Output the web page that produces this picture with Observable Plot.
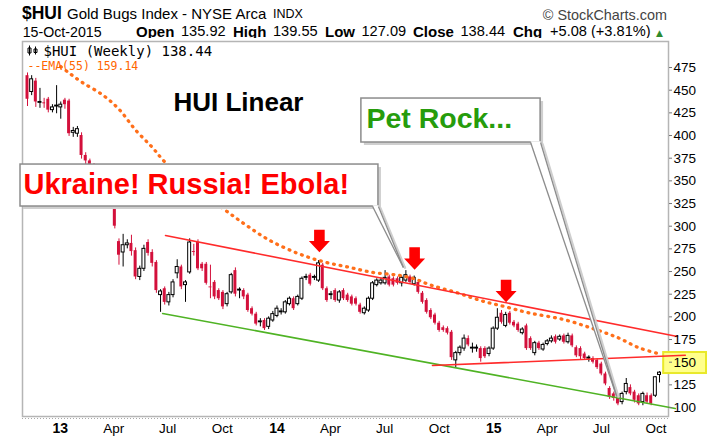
<!DOCTYPE html>
<html>
<head>
<meta charset="utf-8">
<script src="https://cdn.jsdelivr.net/npm/d3@7"></script>
<script src="https://cdn.jsdelivr.net/npm/@observablehq/plot@0.6"></script>
<style>
html,body{margin:0;padding:0;background:#fff;}
#wrap{position:relative;width:720px;height:440px;overflow:hidden;font-family:"Liberation Sans",Arial,sans-serif;color:#000;background:#fff;}
#wrap .t{position:absolute;white-space:nowrap;line-height:1;}
#chart{position:absolute;left:0;top:38px;}
</style>
</head>
<body>
<div id="wrap">
  <span class="t" style="left:22px;top:4.7px;font-size:17.5px;font-weight:bold">$HUI</span>
  <span class="t" style="left:67px;top:5.8px;font-size:15px">Gold Bugs Index - NYSE Arca</span>
  <span class="t" style="left:273px;top:7.9px;font-size:12.5px">INDX</span>
  <span class="t" style="right:53px;top:8.3px;font-size:14.4px;color:#444">© StockCharts.com</span>
  <span class="t" style="left:22.7px;top:24.7px;font-size:14.2px">15-Oct-2015</span>
  <span class="t" style="left:136px;top:24px;font-size:15px;font-weight:bold">Open</span>
  <span class="t" style="left:181px;top:24.3px;font-size:14.6px">135.92</span>
  <span class="t" style="left:233px;top:24px;font-size:15px;font-weight:bold">High</span>
  <span class="t" style="left:273px;top:24.3px;font-size:14.6px">139.55</span>
  <span class="t" style="left:325px;top:24px;font-size:15px;font-weight:bold">Low</span>
  <span class="t" style="left:361.5px;top:24.3px;font-size:14.6px">127.09</span>
  <span class="t" style="left:413px;top:24px;font-size:15px;font-weight:bold">Close</span>
  <span class="t" style="left:460.5px;top:24.3px;font-size:14.6px">138.44</span>
  <span class="t" style="left:513px;top:24px;font-size:15px;font-weight:bold">Chg</span>
  <span class="t" style="left:550px;top:24.3px;font-size:14.6px">+5.08 (+3.81%)</span>
  <span class="t" style="left:656px;top:28.5px;font-size:9px;color:#2e8b2e;font-family:'DejaVu Sans',sans-serif">▲</span>
  <div id="chart"></div>
</div>
<script>
// ---------- data ----------
const startWeek = Date.UTC(2012, 10, 12);           // first weekly bar (Monday)
const wk = i => new Date(startWeek + i * 7 * 864e5);  // week index -> date

const opens = [466,448,460,436,436,440,428,432,431,439,
  438,403,402,400,378,372,366,360,352,346,
  338,328,283,271,279,281,273,244,253,282,
  271,260,224,231,216,224,248,255,235,249,
  272,282,258,258,233,238,229,227,214,227,
  251,229,229,224,209,203,194,196,189,196,
  201,205,205,214,220,214,220,243,246,243,
  240,257,231,224,229,218,229,224,222,220,
  213,204,207,220,235,237,237,244,242,242,
  237,240,244,236,238,226,218,207,202,193,
  188,187,183,152,160,165,176,165,165,165,
  165,159,165,187,204,190,204,194,192,182,
  190,176,160,171,164,170,173,178,175,179,
  172,179,166,165,159,154,154,152,148,137,
  121,115,111,106,117,122,117,113,106,113,
  113,113,135.92];
const highs = [469,466,463,452,441,442,434,455,437,441,
  440,409,410,403,381,374,369,362,355,350,
  342,331,286,291,285,290,276,256,279,285,
  274,262,230,233,227,241,263,257,240,286,
  280,285,260,260,257,240,231,229,227,248,
  254,232,231,226,211,205,198,198,200,206,
  212,209,218,222,222,224,244,247,248,246,
  262,259,233,228,231,229,231,226,224,222,
  215,211,222,239,242,243,251,246,244,244,
  245,251,246,245,240,228,220,209,204,195,
  190,189,185,162,168,180,179,171,169,167,
  167,167,189,209,207,205,206,196,194,188,
  192,178,173,173,171,175,179,180,180,181,
  182,181,168,167,161,157,156,154,150,139,
  123,117,113,117,132,125,119,115,117,116,
  115,134,139.55];
const lows = [432,444,431,430,430,425,425,424,418,429,
  399,398,398,374,367,360,355,347,340,333,
  322,297,257,255,275,267,241,240,250,267,
  255,226,205,213,212,221,242,230,216,247,
  267,251,250,235,220,219,218,208,211,225,
  222,220,219,205,201,190,189,185,186,194,
  199,202,203,212,207,212,218,240,234,240,
  238,229,216,219,216,215,218,216,212,212,
  203,202,205,218,233,235,235,233,233,235,
  233,238,236,234,225,214,203,197,191,183,
  183,180,152,144,157,162,167,160,161,150,
  154,156,163,185,192,188,191,188,183,180,
  163,163,157,163,162,168,171,170,173,170,
  170,166,155,153,152,150,148,142,135,124,
  109,107,102,103,114,113,105,102,102,104,
  102,111,127.09];
const closes = [440,462,437,437,435,428,431,433,434,434,
  402,405,407,378,372,366,360,350,345,338,
  326,300,268,279,281,272,244,253,275,270,
  259,229,228,216,224,238,255,233,238,282,
  271,253,253,237,232,222,220,211,225,246,
  225,230,222,207,203,192,195,187,198,203,
  209,206,216,220,209,222,242,244,236,244,
  259,231,218,225,218,227,220,218,214,214,
  205,209,220,237,240,240,243,235,235,237,
  243,246,238,243,227,216,205,199,193,185,
  185,182,155,160,166,176,169,166,166,154,
  156,165,187,199,194,202,193,190,185,186,
  165,165,171,165,169,173,176,172,178,172,
  179,168,157,156,154,155,150,144,137,126,
  111,110,104,115,126,115,108,104,115,106,
  104,133.36,138.44];

// EMA(55) (week index, value)
const emaWeeks  = [8,10,13,18,22,26,30,33,39,46,52,58,65,71,77,83,89,93,97,103,109,115,121,129,136,142,147,152];
const emaValues = [476,469,459,445,429,406,387,371,348,323,303,285,270,261,255,249,246,242,235,227,218,211,204,197,187,177,166,159.14];

// trend lines (week index, value)
const redTopWeeks = [33.2, 156.3],  redTopValues = [289.7, 178.3];
const greenWeeks  = [32.5, 155.8],  greenValues  = [203.7, 98.9];
const supportWeeks = [97.4, 158.2], supportValues = [146.3, 157.6];

// red arrows (week index, value)
const arrowWeeks = [70.2, 93.1, 115.1];
const arrowValues = [283.6, 264.3, 228.5];

const yTicks = [100,125,150,175,200,225,250,275,300,325,350,375,400,425,450,475];
const xTickDates = ["2013-01-01","2013-04-01","2013-07-01","2013-10-01","2014-01-01","2014-04-01","2014-07-01","2014-10-01","2015-01-01","2015-04-01","2015-07-01","2015-10-01"];
const xTickLabels = ["13","Apr","Jul","Oct","14","Apr","Jul","Oct","15","Apr","Jul","Oct"];

// ---------- build ----------
const candles = opens.map((o, i) => ({date: wk(i), open: o, high: highs[i], low: lows[i], close: closes[i]}));
const upC = candles.filter(d => d.close >= d.open);
const dnC = candles.filter(d => d.close < d.open);
const half = 2.5 * 864e5;
const bx1 = d => new Date(+d.date - half), bx2 = d => new Date(+d.date + half);
const pts = (ws, vs) => ws.map((w, k) => ({date: wk(w), v: vs[k]}));
const xTicks = xTickDates.map((s, k) => ({date: new Date(s + "T00:00:00Z"), label: xTickLabels[k]}));
const yearTicks = xTicks.filter(d => /^\d+$/.test(d.label));
const monthTicks = xTicks.filter(d => !/^\d+$/.test(d.label));

const RED = "#d3103b";
const GRAY = "#8c8c8c", SHADOW = "#cfcfcf";

// callout boxes (week index, values)
const ukBox = {x1: wk(-1.68), x2: wk(84.4), y1: 321.7, y2: 368.0};
const prBox = {x1: wk(80.3), x2: wk(123.4), y1: 392.3, y2: 440.8};
const ukPtr = [{date: wk(83.0), v: 323}, {date: wk(84.4), v: 323}, {date: wk(90.4), v: 254.4}, {date: wk(83.0), v: 323}];
const prPtr = [{date: wk(121.0), v: 393.6}, {date: wk(123.4), v: 393.6}, {date: wk(141.7), v: 112.1}, {date: wk(121.0), v: 393.6}];
const ukSides = [{a: wk(83.0), b: wk(90.4), v1: 321.7, v2: 254.4}, {a: wk(84.4), b: wk(90.4), v1: 321.7, v2: 254.4}];
const prSides = [{a: wk(121.0), b: wk(141.7), v1: 392.3, v2: 112.1}, {a: wk(123.4), b: wk(141.7), v1: 392.3, v2: 112.1}];

const arrowSym = {draw(ctx) {
  ctx.moveTo(-5.3, -11.3); ctx.lineTo(5.3, -11.3); ctx.lineTo(5.3, 0); ctx.lineTo(10.5, 0);
  ctx.lineTo(0, 11.3); ctx.lineTo(-10.5, 0); ctx.lineTo(-5.3, 0); ctx.closePath();
}};
const iconSym = {draw(ctx) {
  ctx.moveTo(-3.5, -5); ctx.lineTo(-3.5, 5);
  ctx.rect(-5, -2.5, 3, 5);
  ctx.moveTo(2.5, -4); ctx.lineTo(2.5, 4);
  ctx.rect(1, -1.5, 3, 3.5);
}};

const chart = Plot.plot({
  width: 720, height: 402,
  marginTop: 3, marginBottom: 24, marginLeft: 22, marginRight: 52,
  style: {fontFamily: '"Liberation Sans", Arial, sans-serif', background: "white", overflow: "visible"},
  x: {type: "utc", domain: [wk(-1.2025), wk(154.16)], axis: null},
  y: {domain: [90.1, 503.7], axis: null},
  marks: [
    Plot.frame({stroke: "#b5b5b5", strokeWidth: 1.5}),
    Plot.ruleY([90.1], {stroke: "#a8a8a8", strokeDasharray: "1 2", dy: 2}),
    // yellow highlight behind the 150 label
    Plot.rect([{x1: wk(153.0), x2: wk(163.3), y1: 137.5, y2: 160.7}], {x1: "x1", x2: "x2", y1: "y1", y2: "y2", fill: "#ffff8c", stroke: "#e9e92a", strokeWidth: 2}),
    // candles
    Plot.ruleX(dnC, {x: "date", y1: "low", y2: "high", stroke: RED, strokeWidth: 1}),
    Plot.ruleX(upC, {x: "date", y1: "low", y2: "high", stroke: "#000", strokeWidth: 1}),
    Plot.rect(dnC, {x1: bx1, x2: bx2, y1: "open", y2: "close", fill: RED}),
    Plot.rect(upC, {x1: bx1, x2: bx2, y1: "open", y2: "close", fill: "white", stroke: "#000", strokeWidth: 1}),
    // EMA(55)
    Plot.line(pts(emaWeeks, emaValues), {x: "date", y: "v", stroke: "#ff6f1a", strokeWidth: 3.3, strokeDasharray: "0.8 5.9", strokeLinecap: "round", curve: "catmull-rom"}),
    // trend lines
    Plot.line(pts(greenWeeks, greenValues), {x: "date", y: "v", stroke: "#4fb324", strokeWidth: 1.6}),
    Plot.line(pts(redTopWeeks, redTopValues), {x: "date", y: "v", stroke: "#ff2b2b", strokeWidth: 1.6}),
    Plot.line(pts(supportWeeks, supportValues), {x: "date", y: "v", stroke: "#ff2b2b", strokeWidth: 1.6}),
    // arrows
    Plot.dot(pts(arrowWeeks, arrowValues), {x: "date", y: "v", symbol: arrowSym, r: 5, fill: "#ff0000", stroke: "none"}),
    // callout: Ukraine
    Plot.rect([ukBox], {x1: "x1", x2: "x2", y1: "y1", y2: "y2", fill: SHADOW, dx: 3, dy: 3}),
    Plot.link(ukSides, {x1: "a", x2: "b", y1: "v1", y2: "v2", stroke: SHADOW, strokeWidth: 2, dx: 2, dy: 1}),
    Plot.rect([ukBox], {x1: "x1", x2: "x2", y1: "y1", y2: "y2", fill: "white", stroke: GRAY, strokeWidth: 1.5}),
    Plot.line(ukPtr, {x: "date", y: "v", fill: "white", stroke: "none"}),
    Plot.link(ukSides, {x1: "a", x2: "b", y1: "v1", y2: "v2", stroke: GRAY, strokeWidth: 1.3}),
    // callout: Pet Rock
    Plot.rect([prBox], {x1: "x1", x2: "x2", y1: "y1", y2: "y2", fill: SHADOW, dx: 3, dy: 3}),
    Plot.link(prSides, {x1: "a", x2: "b", y1: "v1", y2: "v2", stroke: SHADOW, strokeWidth: 2, dx: 2, dy: 1}),
    Plot.rect([prBox], {x1: "x1", x2: "x2", y1: "y1", y2: "y2", fill: "white", stroke: GRAY, strokeWidth: 1.5}),
    Plot.line(prPtr, {x: "date", y: "v", fill: "white", stroke: "none"}),
    Plot.link(prSides, {x1: "a", x2: "b", y1: "v1", y2: "v2", stroke: GRAY, strokeWidth: 1.3}),
    // annotation texts
    Plot.text([{date: wk(-0.96), v: 345.9, t: "Ukraine! Russia! Ebola!"}], {x: "date", y: "v", text: "t", fill: "#ff0000", fontSize: 29, fontWeight: "bold", textAnchor: "start", lineAnchor: "middle"}),
    Plot.text([{date: wk(81.5), v: 418.5, t: "Pet Rock..."}], {x: "date", y: "v", text: "t", fill: "#269c0c", fontSize: 28.5, fontWeight: "bold", textAnchor: "start", lineAnchor: "middle"}),
    Plot.text([{date: wk(35.1), v: 436.3, t: "HUI Linear"}], {x: "date", y: "v", text: "t", fill: "#000", fontSize: 26, fontWeight: "bold", textAnchor: "start", lineAnchor: "middle"}),
    // y axis on the right
    Plot.axisY({anchor: "right", ticks: yTicks, tickSize: 3, tickPadding: 2, fontSize: 13.5, stroke: "#777", label: null}),
    // x labels
    Plot.text(yearTicks, {x: "date", text: "label", frameAnchor: "bottom", dy: 12, dx: 3, fontSize: 14, fontWeight: "bold", lineAnchor: "middle"}),
    Plot.text(monthTicks, {x: "date", text: "label", frameAnchor: "bottom", dy: 12, dx: 3, fontSize: 13.5, lineAnchor: "middle"}),
    // legend inside the plot
    Plot.dot([0], {frameAnchor: "top-left", dx: 10.5, dy: 9, symbol: iconSym, r: 4, stroke: "#000", fill: "white", strokeWidth: 1}),
    Plot.text(["$HUI (Weekly) 138.44"], {frameAnchor: "top-left", dx: 21, dy: 4.5, lineAnchor: "top", textAnchor: "start", fontFamily: "DejaVu Sans Mono", fontSize: 14, fill: "#000"}),
    Plot.text(["--EMA(55) 159.14"], {frameAnchor: "top-left", dx: 5, dy: 20, lineAnchor: "top", textAnchor: "start", fontFamily: "DejaVu Sans Mono", fontSize: 11.5, fill: "#ff6600"})
  ]
});
document.getElementById("chart").appendChild(chart);
</script>
</body>
</html>
